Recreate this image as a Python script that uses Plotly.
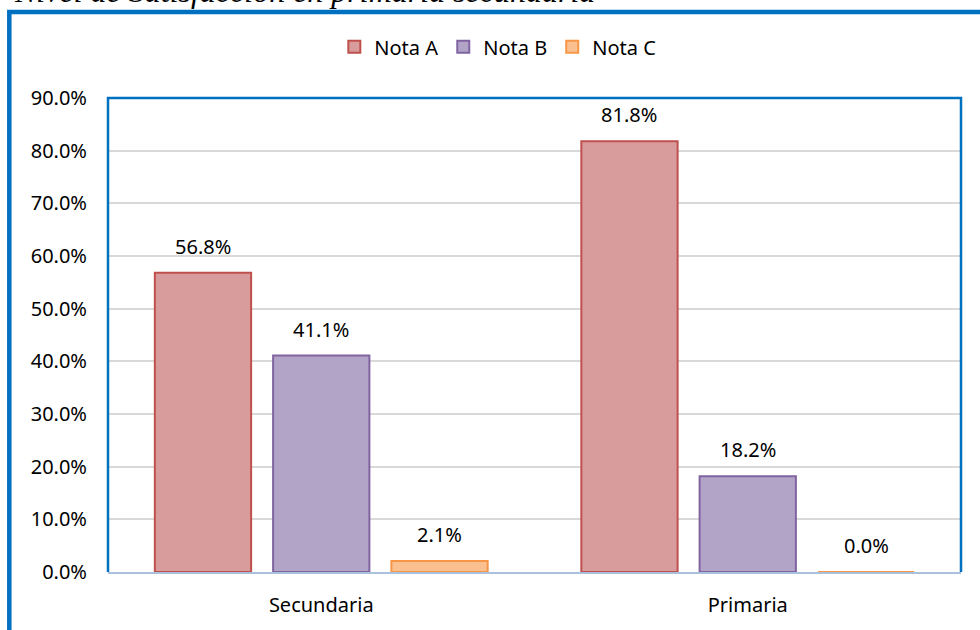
import plotly.graph_objects as go

categories = ["Secundaria", "Primaria"]
series_names = ["Nota A", "Nota B", "Nota C"]
nota_a = [0.568, 0.818]
nota_b = [0.411, 0.182]
nota_c = [0.021, 0.000]
y_ticks = [0.0, 0.1, 0.2, 0.3, 0.4, 0.5, 0.6, 0.7, 0.8, 0.9]
title_text = "Nivel de Satisfacción en primaria secundaria"

fills = ["#d99c9c", "#b2a4c7", "#fac090"]
borders = ["#c0504d", "#8064a2", "#f79646"]
FONT = "Noto Sans"
BARGAP = 0.168
series = [nota_a, nota_b, nota_c]

fig = go.Figure()
for name, vals, fc, bc in zip(series_names, series, fills, borders):
    fig.add_trace(go.Bar(
        x=categories, y=vals, name=name,
        marker=dict(color=fc, line=dict(color=bc, width=2)),
    ))

# value labels placed over each grouped bar
n = len(series)
slot = (1 - BARGAP) / n
for k, vals in enumerate(series):
    for i, v in enumerate(vals):
        fig.add_annotation(
            x=i + (k - (n - 1) / 2) * slot, y=v, xref="x", yref="y",
            text=f"{v:.1%}", showarrow=False, yanchor="bottom", yshift=11,
            font=dict(family=FONT, size=20, color="#000000"))

fig.update_layout(
    width=980, height=630,
    margin=dict(l=108, r=19, t=98, b=58),
    paper_bgcolor="white", plot_bgcolor="white",
    barmode="group", bargap=BARGAP, bargroupgap=0.186,
    font=dict(family=FONT, size=20, color="#000000"),
    legend=dict(orientation="h", x=0.457, xanchor="center", y=1.108, yanchor="middle",
                font=dict(family=FONT, size=20), itemwidth=30, traceorder="normal"),
    showlegend=True,
)
fig.update_yaxes(range=[0, 0.9], tickvals=y_ticks, tickformat=".1%",
                 showgrid=True, gridcolor="#d9d9d9", gridwidth=2,
                 zeroline=False, showline=False, ticklabelstandoff=20,
                 tickfont=dict(family=FONT, size=20))
fig.update_xaxes(showline=True, linecolor="#a9c1dc", linewidth=2,
                 ticklabelstandoff=14, tickfont=dict(family=FONT, size=20))

# plot area border (left, top, right)
fig.add_shape(type="path", xref="paper", yref="paper",
              path="M0,0 L0,1 L1,1 L1,0", line=dict(color="#0070c0", width=2.5))
# outer chart border
fig.add_shape(type="rect", xref="paper", yref="paper",
              x0=-0.1157, x1=1.2, y0=-0.3, y1=1.1815,
              line=dict(color="#0070c0", width=4.5))

fig.add_annotation(text=f"<i>{title_text}</i>", xref="paper", yref="paper",
                   x=-0.113, xanchor="left", y=1.1835, yanchor="bottom",
                   showarrow=False,
                   font=dict(family="Liberation Serif", size=32, color="#000000"))

fig.write_html("out.html", config={"displayModeBar": False},
               post_script="document.body.style.margin='0px';")
